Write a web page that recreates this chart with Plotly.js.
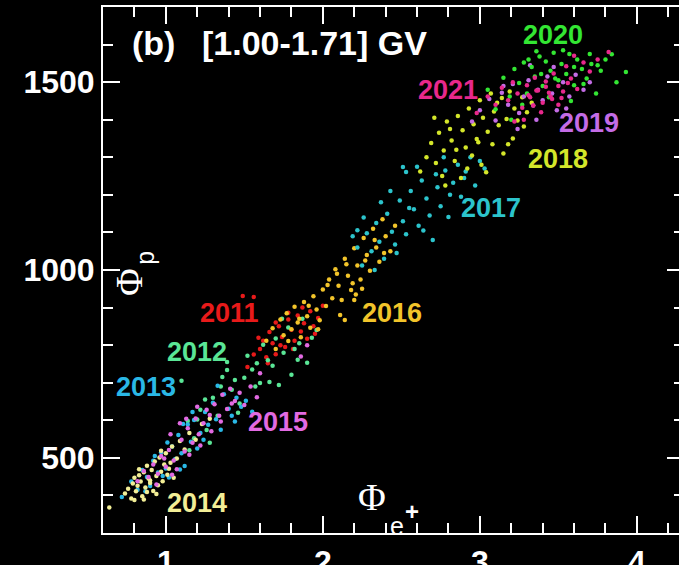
<!DOCTYPE html>
<html><head><meta charset="utf-8">
<script src="https://cdn.plot.ly/plotly-3.0.1.min.js"></script>
<style>html,body{margin:0;padding:0;background:#000;overflow:hidden;}#plot{width:690px;height:565px;}</style>
</head><body><div id="plot"></div>
<script>
const years = ["2011","2012","2013","2014","2015","2016","2017","2018","2019","2020","2021"];
const colors = ["#e81a1a","#5ae696","#2ab8e6","#f2ee96","#e26ae2","#f2c42a","#2cc4cc","#d4e62a","#c46ce6","#33e633","#e8288c"];

const x2011 = [1.49,1.56,1.52,1.56,1.6,1.62,1.64,1.66,1.68,1.7,1.72,1.74,1.76,1.78,1.8,1.82,1.84,1.86,1.88,1.9,1.92,1.94,1.97,2.0,1.65,1.73,1.81,1.87,1.95,1.7,1.78,1.59];
const y2011 = [931,928,742,775,790,812,768,835,805,776,850,822,795,868,841,812,879,836,858,817,890,850,872,905,752,800,790,900,830,860,886,820];

const x2012 = [1.1,1.14,1.18,1.22,1.26,1.3,1.33,1.36,1.39,1.39,1.42,1.44,1.47,1.5,1.52,1.55,1.57,1.6,1.62,1.65,1.68,1.7,1.72,1.75,1.78,1.8,1.82,1.84,1.87,1.9,1.93,1.96,1.2,1.28,1.35,1.46,1.58,1.66,1.74,1.85,1.15,1.25];
const y2012 = [705,598,552,628,574,660,612,715,755,734,681,707,645,713,772,735,690,699,801,760,745,818,694,780,847,721,790,761,870,753,820,840,602,540,690,620,752,702,870,805,520,655];

const x2013 = [0.72,0.78,0.82,0.85,0.88,0.9,0.92,0.95,0.97,1.0,1.02,1.04,1.06,1.08,1.1,1.12,1.14,1.16,1.18,1.2,1.22,1.25,1.27,1.3,1.32,1.35,1.37,1.4,1.42,1.45,1.48,1.51,1.55,0.87,0.93,1.01,1.09,1.17,1.24,1.33,1.44,0.98,1.11];
const y2013 = [396,437,415,468,449,425,492,461,515,472,448,530,497,561,512,478,589,543,601,525,566,622,588,647,603,575,669,631,612,660,636,652,623,411,505,541,469,622,548,692,597,452,590];

const x2014 = [0.64,0.74,0.76,0.78,0.79,0.8,0.81,0.82,0.83,0.84,0.85,0.86,0.87,0.88,0.89,0.9,0.91,0.92,0.93,0.94,0.95,0.96,0.97,0.98,0.99,1.0,1.01,1.02,1.04,1.05,1.07,1.09,1.12,1.15,1.19,1.23,1.28,0.8,0.86,0.9,0.94,0.97,1.03,0.83,0.88];
const y2014 = [368,405,418,392,432,447,411,426,454,437,398,462,421,479,445,433,468,412,490,452,427,501,463,438,482,512,455,471,530,447,498,545,522,566,548,590,604,388,389,440,404,519,487,470,409];

const x2015 = [0.82,0.86,0.89,0.92,0.95,0.97,1.0,1.02,1.05,1.07,1.1,1.12,1.14,1.17,1.19,1.21,1.24,1.26,1.29,1.31,1.34,1.36,1.39,1.41,1.44,1.47,1.5,1.54,1.58,0.94,0.99,1.04,1.09,1.15,1.22,1.28,1.35,1.42,1.03,1.2,1.13,1.6,1.9,1.86];
const y2015 = [438,465,449,482,458,505,476,521,493,470,548,517,579,540,605,563,592,628,571,643,612,668,630,684,651,673,641,690,661,429,498,455,592,508,533,614,597,645,563,636,604,725,800,770];

const x2016 = [1.64,1.68,1.7,1.73,1.75,1.77,1.8,1.82,1.84,1.86,1.88,1.9,1.92,1.94,1.96,1.98,2.0,2.02,2.04,2.06,2.08,2.1,2.12,2.14,2.16,2.18,2.2,2.22,2.24,2.26,2.28,2.3,2.32,2.34,2.36,2.38,2.4,2.43,2.46,1.78,1.85,1.91,1.97,2.03,2.09,2.15,2.21,2.27,2.33,2.39,2.19,2.2,2.14,2.11,2.25];
const y2016 = [812,845,790,868,826,885,842,902,860,821,915,877,846,930,895,866,948,904,975,925,1002,958,920,1030,985,947,1058,1012,975,1085,1040,998,1110,1060,1022,1135,1090,1050,1118,811,870,905,842,960,990,1015,935,1025,1080,1045,965,920,867,880,950];

const x2017 = [2.19,2.22,2.22,2.25,2.28,2.31,2.34,2.36,2.39,2.41,2.44,2.46,2.49,2.51,2.53,2.56,2.58,2.61,2.63,2.66,2.68,2.7,2.73,2.75,2.78,2.8,2.83,2.86,2.88,2.91,2.94,2.97,3.0,3.03,2.26,2.37,2.47,2.55,2.64,2.72,2.81,2.9,2.51,2.53,2.33,2.43,2.6,2.77];
const y2017 = [1090,1060,1106,1012,1098,1050,1125,1075,1030,1150,1102,1068,1185,1130,1095,1210,1162,1118,1238,1190,1145,1080,1220,1170,1265,1141,1232,1280,1195,1262,1300,1225,1290,1270,1140,1180,1045,1165,1105,1255,1200,1245,1274,1261,1000,1210,1275,1300];

const x2018 = [2.62,2.66,2.69,2.72,2.74,2.77,2.79,2.82,2.84,2.86,2.89,2.91,2.93,2.96,2.98,3.0,3.02,3.05,3.07,3.09,3.12,3.14,3.17,3.19,3.22,3.24,3.27,3.3,3.33,2.76,2.81,2.88,2.95,3.01,3.08,3.15,3.21,3.28,2.71,2.99,3.11,2.92,3.04,3.18,2.85,2.78];
const y2018 = [1262,1300,1338,1285,1365,1318,1395,1345,1290,1410,1372,1326,1430,1388,1349,1452,1405,1368,1470,1422,1385,1458,1402,1475,1430,1398,1460,1420,1445,1250,1375,1245,1305,1280,1335,1310,1350,1382,1405,1340,1445,1270,1260,1335,1320,1225];

const x2019 = [3.0,3.06,3.1,3.14,3.18,3.21,3.25,3.28,3.31,3.34,3.37,3.4,3.43,3.46,3.49,3.53,3.57,3.61,3.66,3.7,3.24,3.36,3.47,3.15,2.95,3.55,3.32];
const y2019 = [1425,1455,1398,1472,1440,1495,1418,1462,1505,1438,1480,1452,1515,1470,1425,1500,1462,1520,1480,1500,1375,1400,1540,1490,1395,1430,1545];

const x2020 = [3.05,3.1,3.15,3.19,3.22,3.25,3.28,3.3,3.33,3.35,3.38,3.4,3.42,3.45,3.47,3.5,3.52,3.55,3.57,3.6,3.62,3.65,3.68,3.71,3.74,3.77,3.8,3.84,3.87,3.93,3.27,3.36,3.44,3.53,3.6,3.7,3.48,3.39,3.58,3.66,3.75,3.2,3.31];
const y2020 = [1480,1428,1512,1462,1535,1498,1552,1470,1540,1515,1568,1490,1555,1530,1578,1505,1548,1522,1575,1492,1560,1535,1510,1548,1470,1530,1560,1574,1500,1527,1440,1582,1460,1585,1540,1575,1510,1522,1450,1495,1545,1400,1560];

const x2021 = [2.98,3.05,3.1,3.14,3.18,3.21,3.24,3.27,3.3,3.32,3.35,3.37,3.4,3.42,3.44,3.47,3.5,3.52,3.55,3.58,3.62,3.66,3.7,3.75,3.28,3.34,3.39,3.45,3.5,3.56,3.42,3.36,3.31,3.46,3.53,3.22,3.6,3.82];
const y2021 = [1418,1462,1440,1485,1452,1500,1470,1432,1492,1460,1512,1478,1445,1502,1472,1523,1490,1458,1542,1510,1482,1552,1528,1560,1400,1438,1420,1462,1440,1498,1488,1478,1465,1455,1475,1395,1570,1580];

const xs = [x2011,x2012,x2013,x2014,x2015,x2016,x2017,x2018,x2019,x2020,x2021];
const ys = [y2011,y2012,y2013,y2014,y2015,y2016,y2017,y2018,y2019,y2020,y2021];

const xTicks = [1,2,3,4];
const yTicks = [500,1000,1500];

const traces = years.map((yr,i)=>({
  type:'scatter', mode:'markers', name:yr, x:xs[i], y:ys[i],
  marker:{size:4.5, color:colors[i], line:{width:0}}, hoverinfo:'skip'
}));

const sans = 'Liberation Sans, Arial, Helvetica, sans-serif';
const serif = 'Liberation Serif, Times New Roman, serif';
const labelPos = {
  "2011":[1.407,886],"2012":[1.197,783],"2013":[0.876,688],"2014":[1.197,380],
  "2015":[1.712,595],"2016":[2.443,886],"2017":[3.073,1165],"2018":[3.499,1296],
  "2019":[3.695,1390],"2020":[3.467,1625],"2021":[2.797,1479]
};
const ann = years.map((yr,i)=>({
  x:labelPos[yr][0], y:labelPos[yr][1], xref:'x', yref:'y', text:yr, showarrow:false,
  xanchor:'center', yanchor:'middle', font:{family:sans, size:27, color:colors[i], weight:'bold'}
}));
ann.push({x:0.771,y:1604,xref:'x',yref:'y',text:'(b)',showarrow:false,xanchor:'left',yanchor:'middle',font:{family:sans,size:34,color:'#fff',weight:'bold'}});
ann.push({x:1.216,y:1604,xref:'x',yref:'y',text:'[1.00-1.71] GV',showarrow:false,xanchor:'left',yanchor:'middle',font:{family:sans,size:34,color:'#fff',weight:'bold'}});
ann.push({x:2.31,y:396,xref:'x',yref:'y',text:'Φ',showarrow:false,xanchor:'center',yanchor:'middle',font:{family:serif,size:38,color:'#fff'}});
ann.push({x:2.475,y:319,xref:'x',yref:'y',text:'e',showarrow:false,xanchor:'center',yanchor:'middle',font:{family:sans,size:25,color:'#fff'}});
ann.push({x:2.567,y:356,xref:'x',yref:'y',text:'+',showarrow:false,xanchor:'center',yanchor:'middle',font:{family:sans,size:24,color:'#fff',weight:'bold'}});
ann.push({x:0.765,y:968,xref:'x',yref:'y',text:'Φ',showarrow:false,textangle:-90,xanchor:'center',yanchor:'middle',font:{family:serif,size:38,color:'#fff'}});
ann.push({x:0.866,y:1032,xref:'x',yref:'y',text:'p',showarrow:false,textangle:-90,xanchor:'center',yanchor:'middle',font:{family:sans,size:25,color:'#fff'}});

const axisCommon = {
  showline:true, linecolor:'#fff', linewidth:2, mirror:'allticks',
  ticks:'inside', ticklen:17, tickwidth:2, tickcolor:'#fff',
  showgrid:false, zeroline:false, tickfont:{family:sans, size:32, color:'#fff', weight:'bold'}
};
const layout = {
  width:690, height:565, paper_bgcolor:'#000', plot_bgcolor:'#000',
  margin:{l:103, r:6, t:7, b:32}, showlegend:false,
  xaxis:Object.assign({}, axisCommon, {range:[0.6,4.3], tickmode:'array', tickvals:xTicks, ticktext:xTicks.map(String),
    minor:{ticks:'inside', ticklen:10, tickwidth:2, tickcolor:'#fff', dtick:0.2, tick0:0, showgrid:false}}),
  yaxis:Object.assign({}, axisCommon, {range:[300,1700], tickmode:'array', tickvals:yTicks, ticktext:yTicks.map(String),
    minor:{ticks:'inside', ticklen:10, tickwidth:2, tickcolor:'#fff', dtick:100, tick0:0, showgrid:false}}),
  annotations:ann
};
Plotly.newPlot('plot', traces, layout, {staticPlot:true, displayModeBar:false});
</script></body></html>
